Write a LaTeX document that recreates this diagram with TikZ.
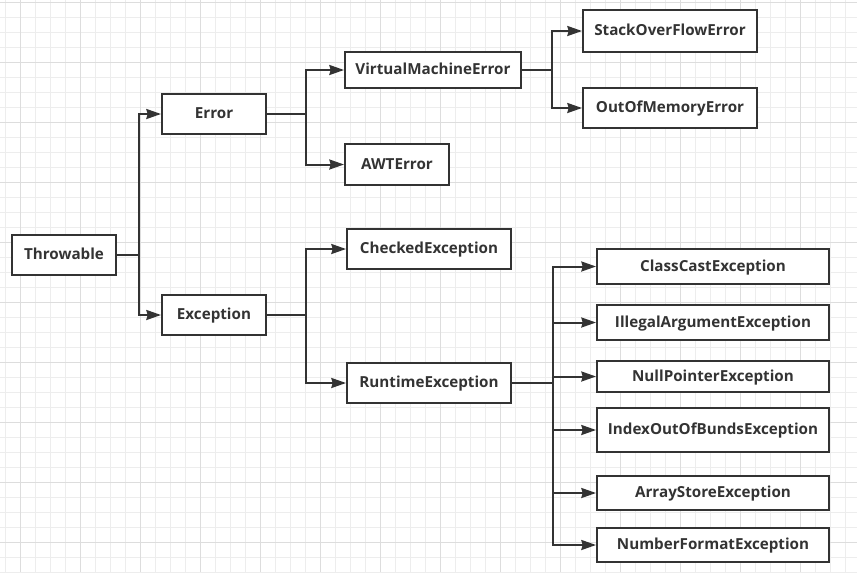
\documentclass[tikz,border=0pt]{standalone}
\usepackage{fontspec}
\setsansfont{Open Sans}
\usetikzlibrary{positioning,arrows.meta,calc}
\definecolor{ink}{HTML}{333333}
\definecolor{gridminor}{HTML}{EDEDED}
\definecolor{gridmajor}{HTML}{DDDDDD}
\tikzset{
    x=0.75pt,
    y=-0.75pt,
    box/.style = {
        draw=ink,
        shape=rectangle,
        fill=white,
        inner sep=0pt,
        line width=1.5pt,
        text=ink,
        text height=1.75ex,
        text depth=0.1ex,
        font=\sffamily\bfseries\fontsize{11.4}{13}\selectfont
    },
    link/.style = {
        draw=ink,
        line width=1.5pt
    },
    >={Stealth[length=11pt,width=7.5pt,inset=1pt]},
}
\begin{document}
\begin{tikzpicture}

    \useasboundingbox (0,0) rectangle (857,572);
    % background grid
    \fill[white] (0,0) rectangle (857,572);
    \foreach \gx in {5,20,...,857}
        \draw[gridminor, line width=0.75pt] (\gx,0) -- (\gx,572);
    \foreach \gy in {2,17,...,572}
        \draw[gridminor, line width=0.75pt] (0,\gy) -- (857,\gy);
    \foreach \gx in {20,80,...,857}
        \draw[gridmajor, line width=0.75pt] (\gx,0) -- (\gx,572);
    \foreach \gy in {2,62,...,572}
        \draw[gridmajor, line width=0.75pt] (0,\gy) -- (857,\gy);

    % classes
    \node[box, minimum width=78pt, minimum height=30pt] (thr) at (64,255) {Throwable};
    \node[box, minimum width=78pt, minimum height=30pt] (err) at (214,114) {Error};
    \node[box, minimum width=78pt, minimum height=30pt] (exc) at (214,315) {Exception};
    \node[box, minimum width=132pt, minimum height=27pt] (vme) at (433,70) {VirtualMachineError};
    \node[box, minimum width=78pt, minimum height=30.5pt] (awt) at (397,164.5) {AWTError};
    \node[box, minimum width=123pt, minimum height=30pt] (chk) at (429,249) {CheckedException};
    \node[box, minimum width=123pt, minimum height=30pt] (rte) at (429,383) {RuntimeException};
    \node[box, minimum width=130.5pt, minimum height=31.5pt] (sof) at (670,31) {StackOverFlowError};
    \node[box, minimum width=130.5pt, minimum height=30pt] (oom) at (670,108) {OutOfMemoryError};
    \node[box, minimum width=174pt, minimum height=26.25pt] (cce) at (713,266.5) {ClassCastException};
    \node[box, minimum width=174pt, minimum height=26.25pt] (iae) at (713,322.5) {IllegalArgumentException};
    \node[box, minimum width=174pt, minimum height=23.25pt] (npe) at (713,376.5) {NullPointerException};
    \node[box, minimum width=174pt, minimum height=33pt] (ioe) at (713,430) {IndexOutOfBundsException};
    \node[box, minimum width=174pt, minimum height=25.5pt] (ase) at (713,493) {ArrayStoreException};
    \node[box, minimum width=174pt, minimum height=25.5pt] (nfe) at (713,545) {NumberFormatException};

    % junctions
    \coordinate (jthr) at (139,255);
    \coordinate (jerr) at (306,114);
    \coordinate (jexc) at (306,315);
    \coordinate (jvme) at (552,70);
    \coordinate (jrte) at (553,383);

    %connect
    \draw[link] (thr) -- (jthr);
    \draw[link, ->] (jthr) |- (err);
    \draw[link, ->] (jthr) |- (exc);
    \draw[link] (err) -- (jerr);
    \draw[link, ->] (jerr) |- (vme);
    \draw[link, ->] (jerr) |- (awt);
    \draw[link] (exc) -- (jexc);
    \draw[link, ->] (jexc) |- (chk);
    \draw[link, ->] (jexc) |- (rte);
    \draw[link] (vme) -- (jvme);
    \draw[link, ->] (jvme) |- (sof);
    \draw[link, ->] (jvme) |- (oom);
    \draw[link] (rte) -- (jrte);
    \foreach \leaf in {cce,iae,npe,ioe,ase,nfe}
        \draw[link, ->] (jrte) |- (\leaf);

\end{tikzpicture}
\end{document}
